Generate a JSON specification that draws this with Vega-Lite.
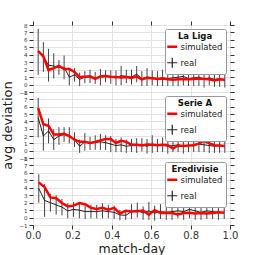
{
  "$schema": "https://vega.github.io/schema/vega-lite/v6.json",
  "padding": {"left": 1, "top": 20, "right": 5, "bottom": 2},
  "config": {
    "font": "DejaVu Sans",
    "view": {"stroke": "#000", "strokeWidth": 1},
    "axis": {"tickColor": "#333", "labelColor": "#333", "gridColor": "#e3e3e3", "domain": false, "labelFlush": false, "labelOverlap": false, "titleFontWeight": "normal", "titleColor": "#222"},
    "legend": {"fillColor": "white", "strokeColor": "#999", "padding": 3, "titleFontSize": 8.5, "titleFontWeight": "bold", "titleColor": "#111", "titleAnchor": "middle", "titlePadding": 2, "labelFontSize": 8.5, "labelColor": "#222", "symbolSize": 100, "rowPadding": 2, "labelOffset": 4, "orient": "top-right", "offset": 4, "cornerRadius": 2}
  },
  "spacing": 0,
  "bounds": "flush",
  "datasets": {
    "laliga": [
      {"x": 0.0263, "sim": 4.5, "real": 4.4, "err": 3.1},
      {"x": 0.0526, "sim": 3.8, "real": 3.7, "err": 2.0},
      {"x": 0.0789, "sim": 1.95, "real": 2.6, "err": 2.2},
      {"x": 0.1053, "sim": 2.2, "real": 2.5, "err": 1.7},
      {"x": 0.1316, "sim": 2.5, "real": 2.3, "err": 1.0},
      {"x": 0.1579, "sim": 2.1, "real": 2.3, "err": 1.6},
      {"x": 0.1842, "sim": 2.1, "real": 1.0, "err": 1.1},
      {"x": 0.2105, "sim": 1.7, "real": 1.3, "err": 0.9},
      {"x": 0.2368, "sim": 1.0, "real": 0.7, "err": 0.9},
      {"x": 0.2632, "sim": 1.05, "real": 1.0, "err": 0.8},
      {"x": 0.2895, "sim": 1.1, "real": 1.1, "err": 0.9},
      {"x": 0.3158, "sim": 0.75, "real": 0.9, "err": 0.8},
      {"x": 0.3421, "sim": 1.1, "real": 1.0, "err": 1.1},
      {"x": 0.3684, "sim": 1.15, "real": 1.1, "err": 0.8},
      {"x": 0.3947, "sim": 1.05, "real": 1.0, "err": 0.9},
      {"x": 0.4211, "sim": 1.0, "real": 0.9, "err": 1.0},
      {"x": 0.4474, "sim": 0.95, "real": 1.2, "err": 1.3},
      {"x": 0.4737, "sim": 1.0, "real": 1.1, "err": 0.9},
      {"x": 0.5, "sim": 0.9, "real": 1.0, "err": 1.0},
      {"x": 0.5263, "sim": 1.1, "real": 1.4, "err": 1.1},
      {"x": 0.5526, "sim": 0.7, "real": 0.8, "err": 1.0},
      {"x": 0.5789, "sim": 0.9, "real": 1.0, "err": 1.2},
      {"x": 0.6053, "sim": 0.85, "real": 0.9, "err": 1.0},
      {"x": 0.6316, "sim": 0.75, "real": 0.8, "err": 1.0},
      {"x": 0.6579, "sim": 0.8, "real": 0.9, "err": 1.1},
      {"x": 0.6842, "sim": 0.7, "real": 0.8, "err": 1.0},
      {"x": 0.7105, "sim": 0.65, "real": 0.9, "err": 1.1},
      {"x": 0.7368, "sim": 0.7, "real": 1.0, "err": 1.2},
      {"x": 0.7632, "sim": 0.75, "real": 1.1, "err": 1.2},
      {"x": 0.7895, "sim": 0.7, "real": 0.8, "err": 1.0},
      {"x": 0.8158, "sim": 0.75, "real": 0.9, "err": 1.1},
      {"x": 0.8421, "sim": 0.8, "real": 1.0, "err": 1.2},
      {"x": 0.8684, "sim": 0.75, "real": 0.7, "err": 1.1},
      {"x": 0.8947, "sim": 0.7, "real": 0.9, "err": 1.0},
      {"x": 0.9211, "sim": 0.55, "real": 0.7, "err": 1.0},
      {"x": 0.9474, "sim": 0.7, "real": 0.8, "err": 1.1},
      {"x": 0.9737, "sim": 0.65, "real": 0.6, "err": 1.0}
    ],
    "seriea": [
      {"x": 0.0263, "sim": 5.8, "real": 4.5, "err": 2.7},
      {"x": 0.0526, "sim": 3.6, "real": 2.0, "err": 2.0},
      {"x": 0.0789, "sim": 3.4, "real": 2.7, "err": 1.7},
      {"x": 0.1053, "sim": 2.2, "real": 1.5, "err": 1.4},
      {"x": 0.1316, "sim": 2.2, "real": 2.0, "err": 1.2},
      {"x": 0.1579, "sim": 2.3, "real": 2.2, "err": 1.0},
      {"x": 0.1842, "sim": 2.0, "real": 2.1, "err": 1.1},
      {"x": 0.2105, "sim": 1.5, "real": 1.5, "err": 1.0},
      {"x": 0.2368, "sim": 1.2, "real": 0.6, "err": 0.9},
      {"x": 0.2632, "sim": 1.2, "real": 1.2, "err": 1.2},
      {"x": 0.2895, "sim": 1.05, "real": 1.0, "err": 0.9},
      {"x": 0.3158, "sim": 1.2, "real": 1.1, "err": 1.0},
      {"x": 0.3421, "sim": 1.4, "real": 1.2, "err": 1.1},
      {"x": 0.3684, "sim": 1.6, "real": 1.1, "err": 1.0},
      {"x": 0.3947, "sim": 1.6, "real": 0.9, "err": 1.1},
      {"x": 0.4211, "sim": 1.05, "real": 0.7, "err": 0.9},
      {"x": 0.4474, "sim": 1.35, "real": 0.8, "err": 1.0},
      {"x": 0.4737, "sim": 1.2, "real": 0.6, "err": 0.9},
      {"x": 0.5, "sim": 0.8, "real": 0.7, "err": 0.9},
      {"x": 0.5263, "sim": 0.8, "real": 0.7, "err": 1.0},
      {"x": 0.5526, "sim": 0.7, "real": 0.8, "err": 0.9},
      {"x": 0.5789, "sim": 0.85, "real": 0.6, "err": 1.0},
      {"x": 0.6053, "sim": 0.8, "real": 0.9, "err": 1.2},
      {"x": 0.6316, "sim": 0.75, "real": 0.7, "err": 0.9},
      {"x": 0.6579, "sim": 0.8, "real": 0.8, "err": 1.0},
      {"x": 0.6842, "sim": 0.75, "real": 0.6, "err": 1.0},
      {"x": 0.7105, "sim": 0.3, "real": 0.7, "err": 0.9},
      {"x": 0.7368, "sim": 0.7, "real": 0.8, "err": 1.0},
      {"x": 0.7632, "sim": 0.65, "real": 0.6, "err": 1.0},
      {"x": 0.7895, "sim": 0.7, "real": 0.7, "err": 0.9},
      {"x": 0.8158, "sim": 0.75, "real": 0.8, "err": 1.0},
      {"x": 0.8421, "sim": 0.95, "real": 0.9, "err": 1.1},
      {"x": 0.8684, "sim": 1.35, "real": 0.8, "err": 1.0},
      {"x": 0.8947, "sim": 1.0, "real": 0.7, "err": 1.0},
      {"x": 0.9211, "sim": 0.75, "real": 0.6, "err": 0.9},
      {"x": 0.9474, "sim": 0.7, "real": 0.7, "err": 1.0},
      {"x": 0.9737, "sim": 0.65, "real": 0.6, "err": 0.9}
    ],
    "eredivisie": [
      {"x": 0.0294, "sim": 4.7, "real": 3.9, "err": 1.9},
      {"x": 0.0588, "sim": 4.1, "real": 2.3, "err": 2.2},
      {"x": 0.0882, "sim": 2.7, "real": 2.0, "err": 1.2},
      {"x": 0.1176, "sim": 2.6, "real": 1.7, "err": 1.3},
      {"x": 0.1471, "sim": 1.95, "real": 1.4, "err": 1.1},
      {"x": 0.1765, "sim": 1.5, "real": 0.9, "err": 1.0},
      {"x": 0.2059, "sim": 1.6, "real": 1.1, "err": 1.0},
      {"x": 0.2353, "sim": 1.95, "real": 1.0, "err": 1.1},
      {"x": 0.2647, "sim": 1.8, "real": 0.8, "err": 1.0},
      {"x": 0.2941, "sim": 1.3, "real": 0.8, "err": 0.9},
      {"x": 0.3235, "sim": 1.15, "real": 0.8, "err": 0.9},
      {"x": 0.3529, "sim": 1.3, "real": 0.9, "err": 1.0},
      {"x": 0.3824, "sim": 1.05, "real": 0.8, "err": 0.9},
      {"x": 0.4118, "sim": 1.3, "real": 0.7, "err": 0.9},
      {"x": 0.4412, "sim": 0.55, "real": 0.35, "err": 0.7},
      {"x": 0.4706, "sim": 0.9, "real": 0.3, "err": 0.6},
      {"x": 0.5, "sim": 0.8, "real": 0.8, "err": 1.0},
      {"x": 0.5294, "sim": 0.85, "real": 1.0, "err": 1.0},
      {"x": 0.5588, "sim": 0.95, "real": 0.6, "err": 0.9},
      {"x": 0.5882, "sim": 0.4, "real": 0.9, "err": 1.2},
      {"x": 0.6176, "sim": 1.0, "real": 0.6, "err": 1.0},
      {"x": 0.6471, "sim": 0.6, "real": 0.8, "err": 1.0},
      {"x": 0.6765, "sim": 0.65, "real": 0.7, "err": 1.0},
      {"x": 0.7059, "sim": 0.6, "real": 0.8, "err": 1.1},
      {"x": 0.7353, "sim": 0.4, "real": 0.9, "err": 1.0},
      {"x": 0.7647, "sim": 0.6, "real": 0.8, "err": 1.1},
      {"x": 0.7941, "sim": 0.65, "real": 1.1, "err": 1.2},
      {"x": 0.8235, "sim": 0.55, "real": 0.9, "err": 1.2},
      {"x": 0.8529, "sim": 0.6, "real": 0.7, "err": 1.0},
      {"x": 0.8824, "sim": 0.55, "real": 0.9, "err": 1.1},
      {"x": 0.9118, "sim": 0.6, "real": 0.8, "err": 1.0},
      {"x": 0.9412, "sim": 0.7, "real": 0.7, "err": 1.0},
      {"x": 0.9706, "sim": 0.65, "real": 0.7, "err": 0.9}
    ]
  },
  "vconcat": [
    {
      "width": 197, "height": 67,
      "data": {"name": "laliga"},
      "layer": [
        {"mark": {"type": "errorbar", "color": "#444", "thickness": 1},
         "encoding": {
           "x": {"field": "x", "type": "quantitative", "scale": {"domain": [0, 1], "nice": false}, "axis": {"orient": "bottom", "values": [0, 0.2, 0.4, 0.6, 0.8, 1], "labels": false, "title": null, "grid": true, "tickSize": 4}},
           "y": {"field": "real", "type": "quantitative", "scale": {"domain": [-1, 8], "nice": false}, "axis": {"orient": "left", "values": [-1, 0, 1, 2, 3, 4, 5, 6, 7, 8], "labelFontSize": 5.5, "labelPadding": 2, "tickSize": 4, "grid": true, "title": null}},
           "yError": {"field": "err"}}},
        {"mark": {"type": "line", "strokeWidth": 1},
         "encoding": {
           "x": {"field": "x", "type": "quantitative", "axis": null},
           "y": {"field": "real", "type": "quantitative", "axis": null},
           "color": {"datum": "real", "type": "nominal", "scale": {"domain": ["simulated", "real"], "range": ["#ff0000", "#222222"]}, "legend": {"title": "La Liga", "encode": {"symbols": {"update": {"shape": {"signal": "datum.value === 'real' ? 'M-1,0H1M0,-1V1' : 'stroke'"}, "strokeWidth": {"signal": "datum.value === 'real' ? 1.2 : 2.5"}}}}}}}},
        {"mark": {"type": "line", "strokeWidth": 2.5},
         "encoding": {
           "x": {"field": "x", "type": "quantitative", "axis": {"orient": "top", "values": [0, 0.2, 0.4, 0.6, 0.8, 1], "labels": false, "title": null, "grid": false, "tickSize": 4}},
           "y": {"field": "sim", "type": "quantitative", "axis": {"orient": "right", "values": [-1, 0, 1, 2, 3, 4, 5, 6, 7, 8], "labels": false, "title": null, "grid": false, "tickSize": 4}},
           "color": {"datum": "simulated", "type": "nominal", "scale": {"domain": ["simulated", "real"], "range": ["#ff0000", "#222222"]}, "legend": {"title": "La Liga", "encode": {"symbols": {"update": {"shape": {"signal": "datum.value === 'real' ? 'M-1,0H1M0,-1V1' : 'stroke'"}, "strokeWidth": {"signal": "datum.value === 'real' ? 1.2 : 2.5"}}}}}}}}
      ],
      "resolve": {"axis": {"x": "independent", "y": "independent"}}
    },
    {
      "width": 197, "height": 66,
      "data": {"name": "seriea"},
      "layer": [
        {"mark": {"type": "errorbar", "color": "#444", "thickness": 1},
         "encoding": {
           "x": {"field": "x", "type": "quantitative", "scale": {"domain": [0, 1], "nice": false}, "axis": {"orient": "bottom", "values": [0, 0.2, 0.4, 0.6, 0.8, 1], "labels": false, "title": null, "grid": true, "tickSize": 4}},
           "y": {"field": "real", "type": "quantitative", "scale": {"domain": [-1, 8], "nice": false}, "axis": {"orient": "left", "values": [-1, 0, 1, 2, 3, 4, 5, 6, 7, 8], "labelFontSize": 5.5, "labelPadding": 2, "tickSize": 4, "grid": true, "title": "avg deviation", "titleFontSize": 13, "titlePadding": 4}},
           "yError": {"field": "err"}}},
        {"mark": {"type": "line", "strokeWidth": 1},
         "encoding": {
           "x": {"field": "x", "type": "quantitative", "axis": null},
           "y": {"field": "real", "type": "quantitative", "axis": null},
           "color": {"datum": "real", "type": "nominal", "scale": {"domain": ["simulated", "real"], "range": ["#ff0000", "#222222"]}, "legend": {"title": "Serie A", "encode": {"symbols": {"update": {"shape": {"signal": "datum.value === 'real' ? 'M-1,0H1M0,-1V1' : 'stroke'"}, "strokeWidth": {"signal": "datum.value === 'real' ? 1.2 : 2.5"}}}}}}}},
        {"mark": {"type": "line", "strokeWidth": 2.5},
         "encoding": {
           "x": {"field": "x", "type": "quantitative", "axis": null},
           "y": {"field": "sim", "type": "quantitative", "axis": {"orient": "right", "values": [-1, 0, 1, 2, 3, 4, 5, 6, 7, 8], "labels": false, "title": null, "grid": false, "tickSize": 4}},
           "color": {"datum": "simulated", "type": "nominal", "scale": {"domain": ["simulated", "real"], "range": ["#ff0000", "#222222"]}, "legend": {"title": "Serie A", "encode": {"symbols": {"update": {"shape": {"signal": "datum.value === 'real' ? 'M-1,0H1M0,-1V1' : 'stroke'"}, "strokeWidth": {"signal": "datum.value === 'real' ? 1.2 : 2.5"}}}}}}}}
      ],
      "resolve": {"axis": {"x": "independent", "y": "independent"}}
    },
    {
      "width": 197, "height": 67,
      "data": {"name": "eredivisie"},
      "layer": [
        {"mark": {"type": "errorbar", "color": "#444", "thickness": 1},
         "encoding": {
           "x": {"field": "x", "type": "quantitative", "scale": {"domain": [0, 1], "nice": false}, "axis": {"orient": "bottom", "values": [0, 0.2, 0.4, 0.6, 0.8, 1], "format": ".1f", "labelFontSize": 10, "labelPadding": 1, "grid": true, "tickSize": 4, "title": "match-day", "titleFontSize": 12.5, "titlePadding": 2}},
           "y": {"field": "real", "type": "quantitative", "scale": {"domain": [-1, 8], "nice": false}, "axis": {"orient": "left", "values": [-1, 0, 1, 2, 3, 4, 5, 6, 7, 8], "labelFontSize": 5.5, "labelPadding": 2, "tickSize": 4, "grid": true, "title": null}},
           "yError": {"field": "err"}}},
        {"mark": {"type": "line", "strokeWidth": 1},
         "encoding": {
           "x": {"field": "x", "type": "quantitative", "axis": null},
           "y": {"field": "real", "type": "quantitative", "axis": null},
           "color": {"datum": "real", "type": "nominal", "scale": {"domain": ["simulated", "real"], "range": ["#ff0000", "#222222"]}, "legend": {"title": "Eredivisie", "encode": {"symbols": {"update": {"shape": {"signal": "datum.value === 'real' ? 'M-1,0H1M0,-1V1' : 'stroke'"}, "strokeWidth": {"signal": "datum.value === 'real' ? 1.2 : 2.5"}}}}}}}},
        {"mark": {"type": "line", "strokeWidth": 2.5},
         "encoding": {
           "x": {"field": "x", "type": "quantitative", "axis": null},
           "y": {"field": "sim", "type": "quantitative", "axis": {"orient": "right", "values": [-1, 0, 1, 2, 3, 4, 5, 6, 7, 8], "labels": false, "title": null, "grid": false, "tickSize": 4}},
           "color": {"datum": "simulated", "type": "nominal", "scale": {"domain": ["simulated", "real"], "range": ["#ff0000", "#222222"]}, "legend": {"title": "Eredivisie", "encode": {"symbols": {"update": {"shape": {"signal": "datum.value === 'real' ? 'M-1,0H1M0,-1V1' : 'stroke'"}, "strokeWidth": {"signal": "datum.value === 'real' ? 1.2 : 2.5"}}}}}}}}
      ],
      "resolve": {"axis": {"x": "independent", "y": "independent"}}
    }
  ],
  "resolve": {"scale": {"color": "independent"}, "legend": {"color": "independent"}}
}
